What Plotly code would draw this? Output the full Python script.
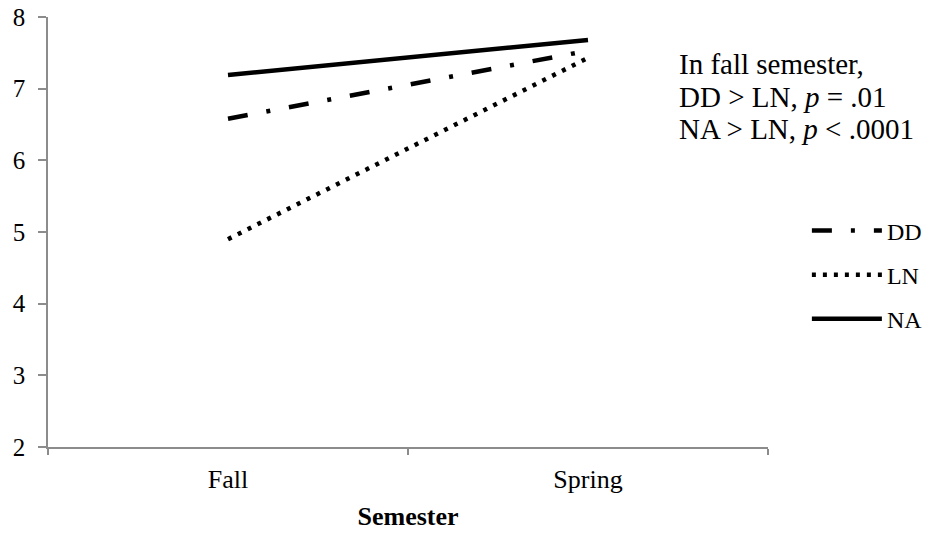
import plotly.graph_objects as go

semesters = ["Fall", "Spring"]
dd = [6.58, 7.53]
ln = [4.90, 7.43]
na = [7.19, 7.68]
y_ticks = [2, 3, 4, 5, 6, 7, 8]
note_lines = ["In fall semester,",
              "DD > LN, <i>p</i> = .01",
              "NA > LN, <i>p</i> < .0001"]
note_y = [0.89, 0.813, 0.739]

FONT = "Liberation Serif, Times New Roman, serif"
AXC = "#8c8c8c"

fig = go.Figure()
fig.add_trace(go.Scatter(x=semesters, y=dd, name="DD", mode="lines", legendgroup="dd",
                         line=dict(color="black", width=4.5, dash="20px,19px,4px,19px")))
fig.add_trace(go.Scatter(x=semesters, y=ln, name="LN", mode="lines", legendgroup="ln",
                         line=dict(color="black", width=4.5, dash="4px,7px")))
fig.add_trace(go.Scatter(x=semesters, y=na, name="NA", mode="lines", legendgroup="na",
                         line=dict(color="black", width=4.5)))

fig.update_layout(
    template="none",
    width=929, height=538,
    margin=dict(l=48, r=161, t=17, b=91, autoexpand=False),
    plot_bgcolor="white", paper_bgcolor="white",
    font=dict(family=FONT, size=23, color="black"),
    legend=dict(x=1.054, y=0.555, xanchor="left", yanchor="top",
                font=dict(size=24), itemwidth=70, tracegroupgap=10,
                bgcolor="rgba(0,0,0,0)"),
    annotations=[dict(
        xref="paper", yref="paper", x=0.874, y=yy, xanchor="left", yanchor="middle",
        align="left", showarrow=False, text=t,
        font=dict(family=FONT, size=29, color="black")) for t, yy in zip(note_lines, note_y)],
)
fig.update_xaxes(type="category", range=[-0.5, 1.5], showline=True, linecolor=AXC, linewidth=1.5,
                 ticks="outside", tickson="boundaries", ticklen=6, tickcolor=AXC, tickwidth=1.5,
                 showgrid=False, zeroline=False, automargin=False, ticklabelstandoff=8,
                 title=dict(text="<b>Semester</b>", font=dict(size=26), standoff=14),
                 tickfont=dict(size=26))
fig.update_yaxes(range=[2, 8], tickvals=y_ticks, showline=True, linecolor=AXC, linewidth=1.5,
                 ticks="outside", ticklen=8, tickcolor=AXC, tickwidth=1.5,
                 showgrid=False, zeroline=False, automargin=False, tickfont=dict(size=25),
                 ticklabelstandoff=8)

fig.write_html("out.html", config={"displayModeBar": False},
               post_script="document.body.style.margin='0';")
